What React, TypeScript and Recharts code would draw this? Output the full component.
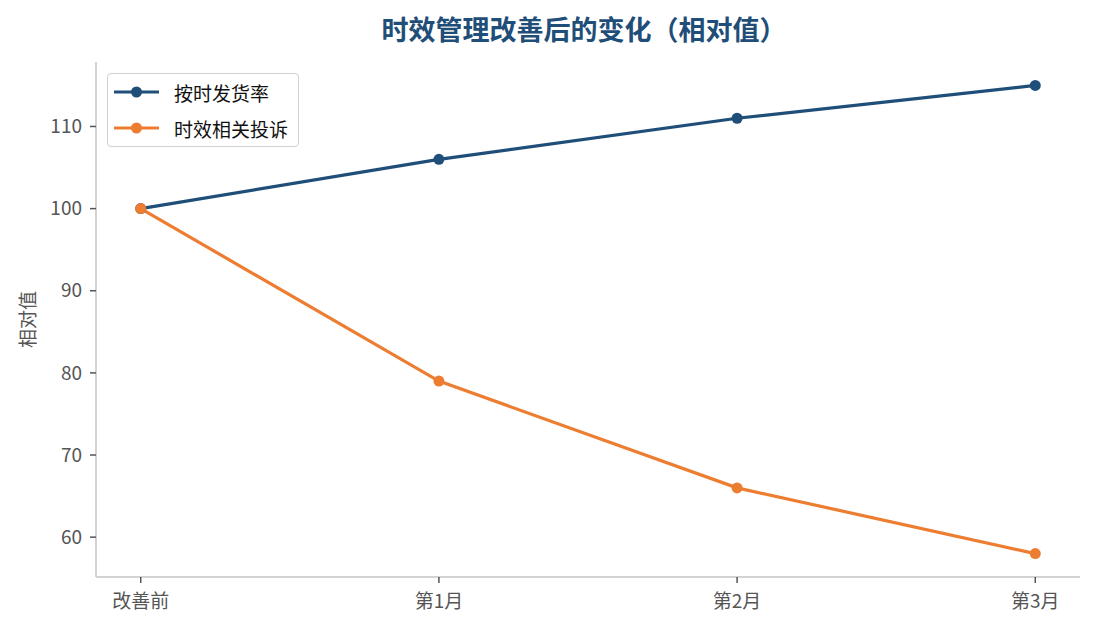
import React from 'react';
import { LineChart, Line, XAxis, YAxis, Legend } from 'recharts';

const categories = ['改善前', '第1月', '第2月', '第3月'];
const onTimeRate = [100, 106, 111, 115];
const complaints = [100, 79, 66, 58];
const yTicks = [60, 70, 80, 90, 100, 110];

const seriesNames = ['按时发货率', '时效相关投诉'];
const colors = ['#1f4e79', '#ed7d31'];

const data = categories.map((c, i) => ({ x: i, a: onTimeRate[i], b: complaints[i] }));

const FONT = '"Noto Sans CJK SC", "Noto Sans", sans-serif';

const LegendContent = (props: any) => {
  const payload = props.payload || [];
  return (
    <div
      style={{
        border: '1.5px solid #d0d0d0',
        borderRadius: 4,
        background: 'rgba(255,255,255,0.85)',
        padding: '0 10px 0 6px',
        fontFamily: FONT,
        fontSize: 19,
        color: '#111',
        boxSizing: 'border-box',
      }}
    >
      {payload.map((p: any) => (
        <div key={p.value} style={{ display: 'flex', alignItems: 'center', height: 36 }}>
          <svg width={45} height={14} style={{ marginRight: 15 }}>
            <line x1={0} y1={7} x2={45} y2={7} stroke={p.color} strokeWidth={3.2} />
            <circle cx={22.5} cy={7} r={5.5} fill={p.color} />
          </svg>
          <span>{p.value}</span>
        </div>
      ))}
    </div>
  );
};

const YLabel = (props: any) => {
  const vb = props.viewBox || { x: 0, y: 62, width: 96, height: 515 };
  const cy = vb.y + vb.height / 2;
  const cx = 26;
  return (
    <text
      x={cx}
      y={cy}
      transform={`rotate(-90, ${cx}, ${cy})`}
      textAnchor="middle"
      dominantBaseline="central"
      fill="#555"
      fontSize={19}
      fontFamily={FONT}
    >
      相对值
    </text>
  );
};

export default function App() {
  return (
    <div style={{ position: 'absolute', left: 0, top: 0, width: 1095, height: 630, background: '#fff' }}>
      <div
        style={{
          position: 'absolute',
          left: 0,
          top: 11,
          width: 1168,
          textAlign: 'center',
          fontFamily: FONT,
          fontWeight: 700,
          fontSize: 27,
          color: '#1f4e79',
          lineHeight: '36px',
        }}
      >
        时效管理改善后的变化（相对值）
      </div>
      <LineChart
        width={1095}
        height={630}
        data={data}
        margin={{ top: 62, right: 15, bottom: 0, left: 0 }}
      >
        <XAxis
          dataKey="x"
          type="number"
          domain={[-0.15, 3.15]}
          ticks={[0, 1, 2, 3]}
          tickFormatter={(v: number) => categories[v]}
          axisLine={{ stroke: '#c4c4c4', strokeWidth: 1.5 }}
          tickLine={{ stroke: '#555', strokeWidth: 1.5 }}
          tickSize={6}
          tickMargin={12}
          tick={{ fill: '#555', fontSize: 19, fontFamily: FONT }}
          allowDataOverflow
          height={53}
        />
        <YAxis
          type="number"
          domain={[55.15, 117.85]}
          ticks={yTicks}
          allowDataOverflow
          width={96}
          axisLine={{ stroke: '#c4c4c4', strokeWidth: 1.5 }}
          tickLine={{ stroke: '#555', strokeWidth: 1.5 }}
          tickSize={6}
          tickMargin={8}
          tick={{ fill: '#555', fontSize: 19, fontFamily: FONT }}
          label={{ value: '相对值', content: <YLabel /> }}
        />
        <Legend
          layout="horizontal"
          verticalAlign="middle"
          align="center"
          content={<LegendContent />}
          wrapperStyle={{ position: 'absolute', left: 107, top: 73, width: 'auto' }}
        />
        <Line
          dataKey="a"
          name={seriesNames[0]}
          stroke={colors[0]}
          strokeWidth={3.2}
          dot={{ r: 5.5, fill: colors[0], stroke: 'none' }}
          activeDot={false}
          isAnimationActive={false}
        />
        <Line
          dataKey="b"
          name={seriesNames[1]}
          stroke={colors[1]}
          strokeWidth={3.2}
          dot={{ r: 5.5, fill: colors[1], stroke: 'none' }}
          activeDot={false}
          isAnimationActive={false}
        />
      </LineChart>
    </div>
  );
}
